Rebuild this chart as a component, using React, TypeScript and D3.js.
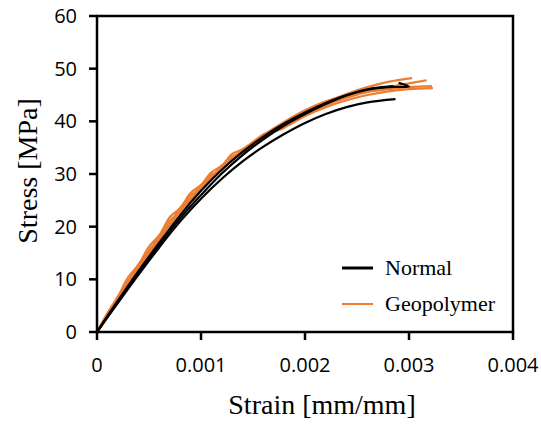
import React from "react";
import * as d3 from "d3";

const xTicks = [0, 0.001, 0.002, 0.003, 0.004];
const xTickLabels = ["0", "0.001", "0.002", "0.003", "0.004"];
const yTicks = [0, 10, 20, 30, 40, 50, 60];

// Normal concrete specimens
const strainN1 = [0, 0.0002, 0.0004, 0.0006, 0.0008, 0.001, 0.0012, 0.0014, 0.0016, 0.0018, 0.002, 0.0022, 0.0024, 0.0026, 0.00287];
const stressN1 = [0, 5.5, 10.9, 16.1, 21, 25.3, 29.1, 32.4, 35.2, 37.6, 39.7, 41.4, 42.7, 43.6, 44.2];
const strainN2 = [0, 0.0002, 0.0004, 0.0006, 0.0008, 0.001, 0.0012, 0.0014, 0.0016, 0.0018, 0.002, 0.0022, 0.0024, 0.0026, 0.00285];
const stressN2 = [0, 5.9, 11.6, 17, 22.2, 26.8, 30.8, 34.2, 37.1, 39.6, 41.7, 43.5, 45, 46.1, 46.7];
const strainN3 = [0, 0.0002, 0.0004, 0.0006, 0.0008, 0.001, 0.0012, 0.0014, 0.0016, 0.0018, 0.002, 0.0022, 0.0024, 0.0026, 0.0028, 0.003, 0.0029];
const stressN3 = [0, 5.8, 11.3, 16.6, 21.6, 26, 30.1, 33.6, 36.6, 39.2, 41.4, 43.3, 44.9, 46, 46.5, 46.6, 47.3];

// Geopolymer concrete specimens
const strainG1 = [0, 0.0001, 0.0002, 0.0003, 0.0004, 0.0005, 0.0006, 0.0007, 0.0008, 0.0009, 0.001, 0.0011, 0.0012, 0.0013, 0.0014, 0.0016, 0.0018, 0.002, 0.0022, 0.0024, 0.0026, 0.0028, 0.00303];
const stressG1 = [0, 3.6, 6.7, 10.4, 12.8, 16.2, 18.4, 21.8, 23.5, 26.4, 27.9, 30.3, 31.6, 33.8, 34.7, 37.5, 39.5, 41.8, 43.6, 45.2, 46.5, 47.5, 48.2];
const strainG2 = [0, 0.0001, 0.0002, 0.0003, 0.0004, 0.0005, 0.0006, 0.0007, 0.0008, 0.0009, 0.001, 0.0011, 0.0012, 0.0013, 0.0014, 0.0016, 0.0018, 0.002, 0.0022, 0.0024, 0.0026, 0.0028, 0.003, 0.00317];
const stressG2 = [0, 3, 6.7, 9.2, 12.9, 15, 18.4, 20.4, 23.6, 25.2, 27.9, 29.2, 31.6, 32.7, 34.6, 36.8, 39.3, 41.2, 43.1, 44.5, 45.6, 46.5, 47.2, 47.8];
const strainG3 = [0, 0.0001, 0.0002, 0.0003, 0.0004, 0.0005, 0.0006, 0.0007, 0.0008, 0.0009, 0.001, 0.0011, 0.0012, 0.0013, 0.0014, 0.0016, 0.0018, 0.002, 0.0022, 0.0024, 0.0026, 0.0028, 0.003, 0.00323];
const stressG3 = [0, 3.3, 6.1, 9.7, 12.1, 15.6, 17.7, 21.1, 22.9, 25.9, 27.1, 29.8, 30.8, 33.3, 34, 37.1, 38.8, 41, 42.7, 44, 45, 45.7, 46.1, 46.3];
const strainG4 = [0, 0.0002, 0.0004, 0.0006, 0.0008, 0.001, 0.0012, 0.0014, 0.0016, 0.0018, 0.002, 0.0022, 0.0024, 0.0026, 0.0028, 0.003, 0.00322];
const stressG4 = [0, 6.3, 12.2, 17.7, 22.9, 27.3, 31.3, 34.6, 37.4, 39.9, 42.1, 43.8, 44.9, 45.6, 46.1, 46.5, 46.7];

const normalCurves = [
  [strainN1, stressN1],
  [strainN2, stressN2],
  [strainN3, stressN3],
];
const geoCurves = [
  [strainG1, stressG1],
  [strainG2, stressG2],
  [strainG3, stressG3],
  [strainG4, stressG4],
];

const W = 541;
const H = 425;
const left = 97;
const right = 513;
const top = 16;
const bottom = 332;

const ORANGE = "#ED7D31";
const SANS = "'Open Sans', 'Liberation Sans', sans-serif";
const SERIF = "'Liberation Serif', 'Times New Roman', serif";

export default function App() {
  const x = d3.scaleLinear().domain([0, 0.004]).range([left, right]);
  const y = d3.scaleLinear().domain([0, 60]).range([bottom, top]);
  const line = d3
    .line<number[]>()
    .x((d) => x(d[0]))
    .y((d) => y(d[1]))
    .curve(d3.curveCatmullRom);

  const toPts = (c: number[][]) => c[0].map((s, i) => [s, c[1][i]]);

  return (
    <svg
      width={W}
      height={H}
      style={{ position: "absolute", left: 0, top: 0, background: "#fff" }}
    >
      <rect x={0} y={0} width={W} height={H} fill="#fff" />
      {geoCurves.map((c, i) => (
        <path key={"g" + i} d={line(toPts(c)) || ""} fill="none" stroke={ORANGE} strokeWidth={2.2} />
      ))}
      {normalCurves.map((c, i) => (
        <path key={"n" + i} d={line(toPts(c)) || ""} fill="none" stroke="#000" strokeWidth={2.2} />
      ))}
      <rect
        x={left}
        y={top}
        width={right - left}
        height={bottom - top}
        fill="none"
        stroke="#000"
        strokeWidth={2.5}
      />
      {yTicks.map((t) => (
        <g key={"y" + t}>
          <line x1={left - 8} x2={left} y1={y(t)} y2={y(t)} stroke="#000" strokeWidth={2.5} />
          <text
            x={77}
            y={y(t)}
            dy="0.35em"
            textAnchor="end"
            fontFamily={SANS}
            fontSize={20}
            fill="#000"
          >
            {t}
          </text>
        </g>
      ))}
      {xTicks.map((t, i) => (
        <g key={"x" + t}>
          <line x1={x(t)} x2={x(t)} y1={bottom} y2={bottom + 8} stroke="#000" strokeWidth={2.5} />
          <text
            x={x(t)}
            y={372}
            textAnchor="middle"
            fontFamily={SANS}
            fontSize={20}
            fill="#000"
          >
            {xTickLabels[i]}
          </text>
        </g>
      ))}
      <text x={322} y={414} textAnchor="middle" fontFamily={SERIF} fontSize={28} fill="#000">
        Strain [mm/mm]
      </text>
      <text
        transform={`translate(37,${171}) rotate(-90)`}
        textAnchor="middle"
        fontFamily={SERIF}
        fontSize={28}
        fill="#000"
      >
        Stress [MPa]
      </text>
      <line x1={342} x2={373} y1={268} y2={268} stroke="#000" strokeWidth={3} />
      <text x={385} y={275} fontFamily={SERIF} fontSize={22} fill="#000">
        Normal
      </text>
      <line x1={342} x2={373} y1={304} y2={304} stroke={ORANGE} strokeWidth={2} />
      <text x={385} y={311} fontFamily={SERIF} fontSize={22} fill="#000">
        Geopolymer
      </text>
    </svg>
  );
}
